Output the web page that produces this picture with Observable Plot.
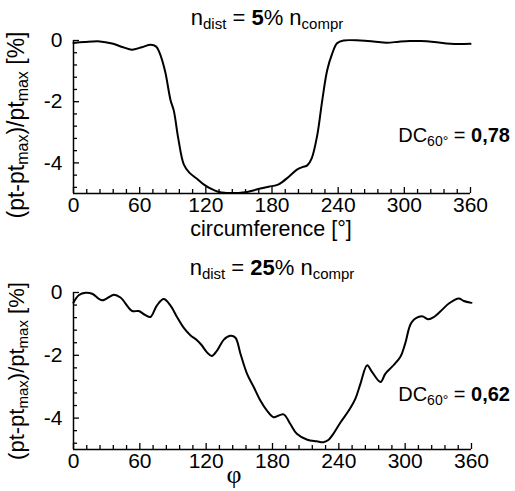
<!DOCTYPE html>
<html><head><meta charset="utf-8">
<script src="https://cdn.jsdelivr.net/npm/d3@7"></script>
<script src="https://cdn.jsdelivr.net/npm/@observablehq/plot@0.6"></script>
<style>body{margin:0;background:#fff;} svg{display:block}</style>
</head><body>
<script>
// ---- data ----
const angle5 = [0,10,24,35,45,53,62,70,75,78,83,88,91,95,100,105,112,118,125,131,139,150,156,166,177,186,195,203,208,212,216,221,225.5,230,234.5,239,245,260,272,284,295,305,315,327,342,360];
const pt5    = [-0.08,-0.05,-0.03,-0.1,-0.22,-0.3,-0.22,-0.14,-0.2,-0.4,-1.0,-1.95,-2.3,-3.2,-4.05,-4.32,-4.52,-4.7,-4.85,-4.94,-4.98,-4.98,-4.96,-4.87,-4.78,-4.7,-4.46,-4.21,-4.13,-4.08,-3.85,-3.1,-1.97,-0.98,-0.44,-0.09,0,0,-0.03,-0.07,-0.04,-0.02,-0.02,-0.05,-0.11,-0.11];

const angle25 = [0,5,10.9,16.9,26,36.5,42.5,53,59,65,69.6,75.5,81.6,87.6,93.6,99.6,105.7,111.7,116,120.6,125,130,136,142,146.5,151,157,163,169,175,181,190,196,202,211.5,220,226,230.5,235,241.6,249,255,259.6,265.6,270,277.7,282,288,295.7,300,306,315,321,326,332,339.5,348.5,353,360];
const pt25    = [-0.32,-0.08,-0.01,-0.04,-0.25,-0.07,-0.16,-0.59,-0.59,-0.72,-0.78,-0.41,-0.21,-0.41,-0.78,-1.12,-1.36,-1.52,-1.68,-1.9,-2.02,-1.84,-1.5,-1.38,-1.44,-1.95,-2.59,-3.01,-3.44,-3.76,-3.97,-3.88,-4.18,-4.5,-4.69,-4.74,-4.77,-4.7,-4.5,-4.13,-3.76,-3.38,-2.9,-2.32,-2.53,-2.85,-2.59,-2.37,-2.05,-1.63,-0.94,-0.76,-0.85,-0.78,-0.6,-0.35,-0.19,-0.27,-0.33];

const xTickLabels = [0,60,120,180,240,300,360];
const xMinorTicks = [12,24,36,48,72,84,96,108,132,144,156,168,192,204,216,228,252,264,276,288,312,324,336,348];
const yTickLabels = [0,-2,-4];
const yMinorTicks = [-0.4,-0.8,-1.2,-1.6,-2.4,-2.8,-3.2,-3.6,-4.4,-4.8];

const titleParts1 = [["n"],["dist","sub"],[" = "],["5","bold"],["% n"],["compr","sub"]];
const titleParts2 = [["n"],["dist","sub"],[" = "],["25","bold"],["% n"],["compr","sub"]];
const dcParts1 = [["DC"],["60°","sub"],[" = "],["0,78","bold"]];
const dcParts2 = [["DC"],["60°","sub"],[" = "],["0,62","bold"]];
const yLabelParts = [["(pt-pt"],["max","sub"],[")/pt"],["max","sub"],[" [%]"]];
const xLabel1 = "circumference [°]";
const xLabel2 = "φ";

const FONT = "'Liberation Sans', Arial, Helvetica, sans-serif";

function rich(g, x, y, parts, opts) {
  const {size = 22, sub = 15, anchor = "middle", rotate = false, shift = 4} = opts;
  const t = g.append("text")
    .attr("text-anchor", anchor)
    .attr("font-family", FONT)
    .attr("font-size", size)
    .attr("fill", "#000")
    .attr("transform", rotate ? `translate(${x},${y}) rotate(-90)` : `translate(${x},${y})`);
  let cur = 0;
  for (const [txt, kind] of parts) {
    const target = kind === "sub" ? shift : 0;
    const sp = t.append("tspan").text(txt)
      .attr("font-size", kind === "sub" ? sub : size)
      .attr("font-weight", kind === "bold" ? "bold" : null)
      .style("white-space", "pre");
    if (target !== cur) { sp.attr("dy", target - cur); cur = target; }
  }
  t.attr("xml:space", "preserve");
  return t;
}

function panel(cfg) {
  const {angles, values, height, mt, mb, mr} = cfg;
  const data = angles.map((a, i) => ({a, v: values[i]}));
  const innerW = 515 - 73 - mr, innerH = height - mt - mb;
  const svg = Plot.plot({
    width: 515, height,
    marginLeft: 73, marginRight: mr, marginTop: mt, marginBottom: mb,
    style: {fontFamily: FONT, fontSize: "21px", color: "#000", background: "#fff", overflow: "visible"},
    x: {domain: [0, 360]},
    y: {domain: [-5, 0]},
    marks: [
      Plot.axisX({ticks: xTickLabels, tickSize: 0, tickPadding: 4, label: null, tickFormat: d => String(d), fontSize: 21}),
      Plot.axisY({ticks: yTickLabels, tickSize: 0, tickPadding: 11, label: null, tickFormat: d => String(d), fontSize: 21}),
      Plot.tickX(xMinorTicks, {x: d => d, insetTop: innerH - 4, stroke: "#000", strokeWidth: 1.3}),
      Plot.tickX(xTickLabels, {x: d => d, insetTop: innerH - 6, stroke: "#000", strokeWidth: 1.3}),
      Plot.tickY(yMinorTicks, {y: d => d, insetRight: innerW - 4, stroke: "#000", strokeWidth: 1.3}),
      Plot.tickY(yTickLabels, {y: d => d, insetRight: innerW - 6, stroke: "#000", strokeWidth: 1.3}),
      Plot.ruleX([0], {stroke: "#000", strokeWidth: 1.5}),
      Plot.ruleY([-5], {stroke: "#000", strokeWidth: 1.5}),
      Plot.line(data, {x: "a", y: "v", curve: "catmull-rom", stroke: "#000", strokeWidth: 2})
    ]
  });
  const g = d3.select(svg).append("g");
  rich(g, cfg.titleX, cfg.titleY, cfg.title, {size: 22, sub: 15});
  rich(g, 510, cfg.dcY, cfg.dc, {size: 20, sub: 14, anchor: "end"});
  rich(g, 24, cfg.ylabY, yLabelParts, {size: cfg.ylabSize, sub: cfg.ylabSub, rotate: true});
  g.append("text").text(cfg.xlabel)
    .attr("x", cfg.xlabX).attr("y", cfg.xlabY)
    .attr("text-anchor", "middle").attr("font-family", cfg.xlabFont || FONT)
    .attr("font-size", cfg.xlabSize).attr("fill", "#000");
  document.body.appendChild(svg);
}

panel({angles: angle5, values: pt5, height: 240, mt: 40, mb: 47, mr: 45,
  title: titleParts1, titleX: 267, titleY: 25,
  dc: dcParts1, dcY: 142,
  ylabY: 125, ylabSize: 23, ylabSub: 16,
  xlabel: xLabel1, xlabX: 271, xlabY: 236, xlabSize: 21.5});
panel({angles: angle25, values: pt25, height: 251, mt: 52, mb: 42, mr: 44,
  title: titleParts2, titleX: 272, titleY: 35,
  dc: dcParts2, dcY: 161,
  ylabY: 131, ylabSize: 22, ylabSub: 15,
  xlabel: xLabel2, xlabX: 234, xlabY: 243, xlabSize: 26, xlabFont: "'Liberation Serif', 'DejaVu Serif', serif"});
</script>
</body></html>
